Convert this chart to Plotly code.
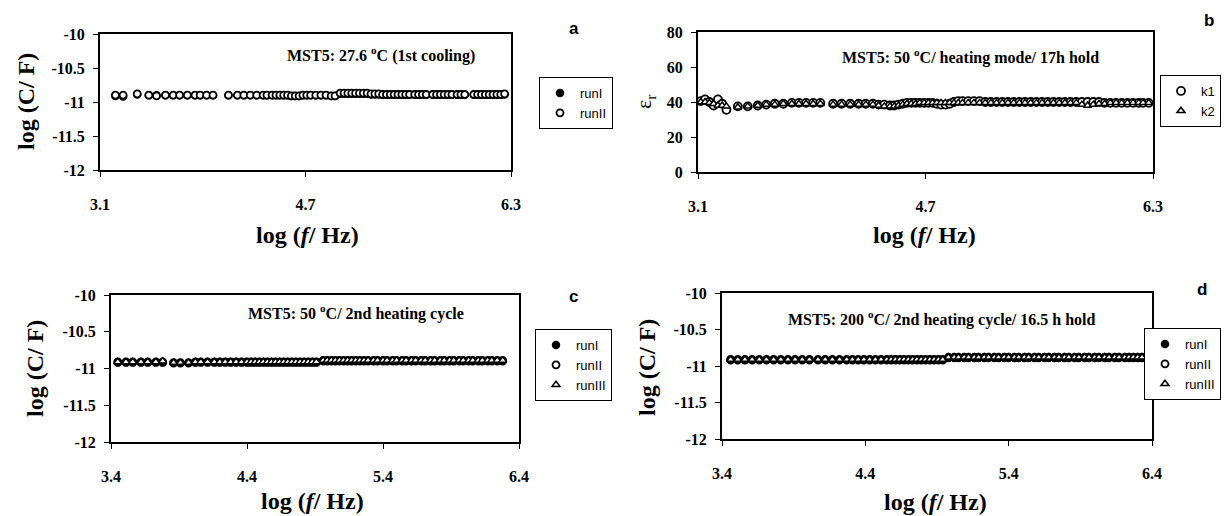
import plotly.graph_objects as go

W, H = 1224, 516
SERIF = "Liberation Serif, Times New Roman, serif"
SANS = "Liberation Sans, Arial, sans-serif"

# ---------------- data (log f in Hz) ----------------
freq_a = [3.22, 3.28, 3.39, 3.48, 3.54, 3.61, 3.67, 3.72, 3.78, 3.84, 3.88,
          3.93, 3.98, 4.10, 4.17, 4.22, 4.27, 4.32, 4.37, 4.40, 4.44, 4.47,
          4.50, 4.53, 4.56, 4.59, 4.62, 4.65, 4.68, 4.71, 4.74, 4.78, 4.82,
          4.86, 4.90, 4.93, 4.97, 5.00, 5.03, 5.06, 5.09, 5.12, 5.15, 5.18,
          5.21, 5.24, 5.27, 5.30, 5.33, 5.36, 5.39, 5.42, 5.45, 5.48, 5.51,
          5.55, 5.58, 5.61, 5.64, 5.69, 5.72, 5.75, 5.78, 5.81, 5.84, 5.88,
          5.91, 5.94, 6.01, 6.04, 6.07, 6.10, 6.13, 6.16, 6.19, 6.22, 6.25]
a_runI = [-10.91, -10.92, -10.89, -10.90, -10.90, -10.90, -10.90, -10.90, -10.90, -10.90, -10.90,
          -10.90, -10.90, -10.90, -10.90, -10.90, -10.90, -10.90, -10.90, -10.90, -10.90, -10.90,
          -10.90, -10.90, -10.90, -10.91, -10.91, -10.91, -10.90, -10.90, -10.90, -10.90, -10.90,
          -10.90, -10.91, -10.91, -10.88, -10.88, -10.88, -10.88, -10.88, -10.88, -10.88, -10.88,
          -10.89, -10.89, -10.89, -10.89, -10.89, -10.89, -10.89, -10.89, -10.89, -10.89, -10.89,
          -10.89, -10.89, -10.89, -10.89, -10.89, -10.89, -10.89, -10.89, -10.89, -10.89, -10.89,
          -10.89, -10.89, -10.89, -10.89, -10.89, -10.89, -10.89, -10.89, -10.89, -10.89, -10.89]
a_runII = [-10.90, -10.90, -10.88, -10.90, -10.91, -10.90, -10.90, -10.90, -10.90, -10.90, -10.90,
           -10.90, -10.90, -10.90, -10.90, -10.90, -10.90, -10.90, -10.90, -10.90, -10.90, -10.90,
           -10.90, -10.90, -10.90, -10.91, -10.91, -10.91, -10.90, -10.90, -10.90, -10.90, -10.90,
           -10.90, -10.91, -10.91, -10.87, -10.87, -10.87, -10.87, -10.87, -10.87, -10.87, -10.87,
           -10.88, -10.88, -10.88, -10.89, -10.89, -10.89, -10.89, -10.89, -10.89, -10.89, -10.89,
           -10.89, -10.89, -10.89, -10.89, -10.89, -10.89, -10.89, -10.89, -10.89, -10.89, -10.89,
           -10.89, -10.89, -10.89, -10.89, -10.89, -10.89, -10.89, -10.89, -10.89, -10.89, -10.88]

freq_b = [3.12, 3.15, 3.18, 3.21, 3.24, 3.27, 3.30, 3.38, 3.45, 3.52, 3.58,
          3.64, 3.70, 3.76, 3.81, 3.86, 3.91, 3.96, 4.05, 4.11, 4.17, 4.23,
          4.28, 4.33, 4.37, 4.41, 4.45, 4.48, 4.51, 4.54, 4.57, 4.60, 4.63,
          4.66, 4.69, 4.72, 4.75, 4.78, 4.81, 4.84, 4.87, 4.90, 4.93, 4.96,
          5.00, 5.04, 5.08, 5.12, 5.16, 5.20, 5.24, 5.28, 5.32, 5.36, 5.40,
          5.44, 5.48, 5.52, 5.56, 5.60, 5.64, 5.68, 5.72, 5.76, 5.80, 5.84,
          5.88, 5.92, 5.96, 6.00, 6.04, 6.08, 6.12, 6.16, 6.20, 6.23, 6.27]
b_k1 = [40.5, 41.5, 40.0, 38.0, 41.5, 39.0, 35.5, 37.5, 37.5, 38.0, 38.5,
        39.0, 39.0, 39.5, 39.5, 39.5, 39.5, 39.5, 39.0, 39.0, 39.0, 39.0,
        39.0, 39.0, 38.5, 38.5, 38.0, 38.0, 38.5, 39.0, 39.5, 39.5, 39.5,
        39.5, 39.5, 39.5, 39.5, 39.0, 38.5, 38.5, 39.0, 40.0, 40.5, 40.5,
        40.5, 40.5, 40.5, 40.0, 40.0, 40.0, 40.0, 40.0, 40.0, 40.0, 40.0,
        40.0, 40.0, 40.0, 40.0, 40.0, 40.0, 40.0, 40.0, 40.0, 40.0, 40.0,
        40.0, 40.0, 39.5, 39.5, 39.5, 39.5, 39.5, 39.5, 39.5, 39.5, 39.5]
b_k2 = [40.0, 40.0, 39.5, 39.0, 38.0, 38.0, 37.5, 37.0, 37.5, 38.0, 38.5,
        38.5, 39.0, 39.0, 39.0, 39.0, 39.0, 39.0, 38.5, 38.5, 38.5, 38.5,
        38.5, 38.5, 38.0, 37.5, 37.5, 37.5, 38.0, 38.5, 39.0, 39.0, 39.0,
        39.5, 39.5, 39.5, 39.5, 39.5, 39.5, 39.5, 39.5, 39.5, 39.5, 39.5,
        39.5, 39.5, 39.5, 39.5, 39.5, 39.5, 39.5, 39.5, 39.5, 39.5, 39.5,
        39.5, 39.5, 39.5, 39.5, 39.5, 39.5, 39.5, 39.5, 39.5, 38.5, 38.0,
        38.5, 39.0, 39.0, 39.5, 39.5, 39.5, 39.5, 39.5, 39.5, 39.5, 39.5]

freq_c = [3.45, 3.51, 3.56, 3.62, 3.67, 3.73, 3.78, 3.86, 3.91, 3.97, 4.02,
          4.06, 4.11, 4.16, 4.20, 4.24, 4.28, 4.32, 4.36, 4.40, 4.43, 4.46,
          4.49, 4.52, 4.55, 4.58, 4.61, 4.64, 4.67, 4.70, 4.73, 4.76, 4.79,
          4.82, 4.85, 4.88, 4.91, 4.96, 4.99, 5.02, 5.05, 5.08, 5.11, 5.14,
          5.17, 5.20, 5.23, 5.26, 5.29, 5.33, 5.36, 5.40, 5.43, 5.47, 5.50,
          5.54, 5.57, 5.61, 5.64, 5.68, 5.71, 5.75, 5.78, 5.82, 5.85, 5.89,
          5.92, 5.96, 5.99, 6.03, 6.06, 6.10, 6.13, 6.17, 6.20, 6.24, 6.28]
c_runI = [-10.92, -10.92, -10.92, -10.92, -10.92, -10.92, -10.92, -10.93, -10.93, -10.93, -10.92,
          -10.92, -10.92, -10.92, -10.92, -10.92, -10.92, -10.92, -10.92, -10.92, -10.92, -10.92,
          -10.92, -10.92, -10.92, -10.92, -10.92, -10.92, -10.92, -10.92, -10.92, -10.92, -10.92,
          -10.92, -10.92, -10.92, -10.92, -10.90, -10.90, -10.90, -10.90, -10.90, -10.90, -10.90,
          -10.90, -10.90, -10.90, -10.90, -10.90, -10.90, -10.90, -10.90, -10.90, -10.90, -10.90,
          -10.90, -10.90, -10.90, -10.90, -10.90, -10.90, -10.90, -10.90, -10.90, -10.90, -10.90,
          -10.90, -10.90, -10.90, -10.90, -10.90, -10.90, -10.90, -10.90, -10.90, -10.90, -10.90]
c_runII = [-10.91, -10.91, -10.91, -10.91, -10.91, -10.91, -10.91, -10.92, -10.92, -10.92, -10.91,
           -10.91, -10.91, -10.91, -10.91, -10.91, -10.91, -10.91, -10.91, -10.91, -10.91, -10.91,
           -10.91, -10.91, -10.91, -10.91, -10.91, -10.91, -10.91, -10.91, -10.91, -10.91, -10.91,
           -10.91, -10.91, -10.91, -10.91, -10.89, -10.89, -10.89, -10.89, -10.89, -10.89, -10.89,
           -10.89, -10.89, -10.89, -10.89, -10.89, -10.89, -10.89, -10.89, -10.89, -10.89, -10.89,
           -10.89, -10.89, -10.89, -10.89, -10.89, -10.89, -10.89, -10.89, -10.89, -10.89, -10.89,
           -10.89, -10.89, -10.89, -10.89, -10.89, -10.89, -10.89, -10.89, -10.89, -10.89, -10.89]
c_runIII = [-10.91, -10.91, -10.91, -10.91, -10.91, -10.91, -10.90, -10.92, -10.92, -10.92, -10.91,
            -10.91, -10.91, -10.91, -10.91, -10.91, -10.91, -10.91, -10.91, -10.91, -10.91, -10.91,
            -10.91, -10.91, -10.91, -10.91, -10.91, -10.91, -10.91, -10.91, -10.91, -10.91, -10.91,
            -10.91, -10.91, -10.91, -10.91, -10.89, -10.89, -10.89, -10.89, -10.89, -10.89, -10.89,
            -10.89, -10.89, -10.89, -10.89, -10.89, -10.89, -10.89, -10.89, -10.89, -10.89, -10.89,
            -10.89, -10.89, -10.89, -10.89, -10.89, -10.89, -10.89, -10.89, -10.89, -10.89, -10.89,
            -10.89, -10.89, -10.89, -10.89, -10.89, -10.89, -10.89, -10.89, -10.89, -10.89, -10.89]

freq_d = [3.46, 3.51, 3.56, 3.61, 3.66, 3.71, 3.76, 3.81, 3.86, 3.91, 3.96,
          4.01, 4.07, 4.12, 4.17, 4.22, 4.27, 4.31, 4.35, 4.39, 4.43, 4.47,
          4.51, 4.55, 4.58, 4.61, 4.64, 4.67, 4.70, 4.73, 4.76, 4.79, 4.82,
          4.85, 4.88, 4.91, 4.94, 4.98, 5.02, 5.05, 5.09, 5.12, 5.16, 5.19,
          5.23, 5.26, 5.30, 5.33, 5.37, 5.40, 5.44, 5.47, 5.51, 5.54, 5.58,
          5.61, 5.65, 5.68, 5.72, 5.75, 5.79, 5.82, 5.86, 5.89, 5.93, 5.96,
          6.00, 6.03, 6.07, 6.10, 6.14, 6.17, 6.21, 6.24, 6.27, 6.30, 6.33]
d_runI = [-10.92, -10.92, -10.92, -10.92, -10.92, -10.92, -10.92, -10.92, -10.92, -10.92, -10.92,
          -10.92, -10.92, -10.92, -10.92, -10.92, -10.92, -10.92, -10.92, -10.92, -10.92, -10.92,
          -10.92, -10.92, -10.92, -10.92, -10.92, -10.92, -10.92, -10.92, -10.92, -10.92, -10.92,
          -10.92, -10.92, -10.92, -10.92, -10.89, -10.89, -10.89, -10.89, -10.89, -10.89, -10.89,
          -10.89, -10.89, -10.89, -10.89, -10.89, -10.89, -10.89, -10.89, -10.89, -10.89, -10.89,
          -10.89, -10.89, -10.89, -10.89, -10.89, -10.89, -10.89, -10.89, -10.89, -10.89, -10.89,
          -10.89, -10.89, -10.89, -10.89, -10.89, -10.89, -10.89, -10.89, -10.89, -10.89, -10.89]
d_runII = [-10.91, -10.91, -10.91, -10.91, -10.91, -10.91, -10.91, -10.91, -10.91, -10.91, -10.91,
           -10.91, -10.91, -10.91, -10.91, -10.91, -10.91, -10.91, -10.91, -10.91, -10.91, -10.91,
           -10.91, -10.91, -10.91, -10.91, -10.91, -10.91, -10.91, -10.91, -10.91, -10.91, -10.91,
           -10.91, -10.91, -10.91, -10.91, -10.88, -10.88, -10.88, -10.88, -10.88, -10.88, -10.88,
           -10.88, -10.88, -10.88, -10.88, -10.88, -10.88, -10.88, -10.88, -10.88, -10.88, -10.88,
           -10.88, -10.88, -10.88, -10.88, -10.88, -10.88, -10.88, -10.88, -10.88, -10.88, -10.88,
           -10.88, -10.88, -10.88, -10.88, -10.88, -10.88, -10.88, -10.88, -10.88, -10.88, -10.88]
d_runIII = [-10.91, -10.91, -10.91, -10.91, -10.91, -10.91, -10.91, -10.91, -10.91, -10.91, -10.91,
            -10.91, -10.91, -10.91, -10.91, -10.91, -10.91, -10.91, -10.91, -10.91, -10.91, -10.91,
            -10.91, -10.91, -10.91, -10.91, -10.91, -10.91, -10.91, -10.91, -10.91, -10.91, -10.91,
            -10.91, -10.91, -10.91, -10.91, -10.88, -10.88, -10.88, -10.88, -10.88, -10.88, -10.88,
            -10.88, -10.88, -10.88, -10.88, -10.88, -10.88, -10.88, -10.88, -10.88, -10.88, -10.88,
            -10.88, -10.88, -10.88, -10.88, -10.88, -10.88, -10.88, -10.88, -10.88, -10.88, -10.88,
            -10.88, -10.88, -10.88, -10.88, -10.88, -10.88, -10.88, -10.88, -10.88, -10.88, -10.88]

xticks_ab = [3.1, 4.7, 6.3]
xticks_cd = [3.4, 4.4, 5.4, 6.4]
yticks_logc = [-12, -11.5, -11, -10.5, -10]
yticklabels_logc = ["-12", "-11.5", "-11", "-10.5", "-10"]
yticks_eps = [0, 20, 40, 60, 80]

# ---------------- figure ----------------
fig = go.Figure()

FILLED = dict(symbol="circle", color="black", size=7, line=dict(color="black", width=1.5))
OPEN_C = dict(symbol="circle", color="white", size=7, line=dict(color="black", width=1.8))
OPEN_T = dict(symbol="triangle-up", color="white", size=7, line=dict(color="black", width=1.5))


def add(x, y, name, marker, xa, ya, legend, rank):
    fig.add_trace(go.Scatter(x=x, y=y, mode="markers", name=name, marker=marker,
                             xaxis=xa, yaxis=ya, legend=legend, legendrank=rank,
                             cliponaxis=False))


# panel a
add(freq_a, a_runI, "runI", FILLED, "x", "y", "legend", 1)
add(freq_a, a_runII, "runII", OPEN_C, "x", "y", "legend", 2)
# panel b
add(freq_b, b_k1, "k1", dict(OPEN_C, size=8), "x2", "y2", "legend2", 1)
add(freq_b, b_k2, "k2", OPEN_T, "x2", "y2", "legend2", 2)
# panel c
add(freq_c, c_runII, "runII", OPEN_C, "x3", "y3", "legend3", 2)
add(freq_c, c_runI, "runI", FILLED, "x3", "y3", "legend3", 1)
add(freq_c, c_runIII, "runIII", OPEN_T, "x3", "y3", "legend3", 3)
# panel d
add(freq_d, d_runII, "runII", OPEN_C, "x4", "y4", "legend4", 2)
add(freq_d, d_runI, "runI", FILLED, "x4", "y4", "legend4", 1)
add(freq_d, d_runIII, "runIII", OPEN_T, "x4", "y4", "legend4", 3)

TICKFONT = dict(family=SERIF, size=16, color="black", weight="bold")


def xaxis(x0, x1, anchor, rng, ticks):
    return dict(domain=[x0 / W, x1 / W], anchor=anchor, range=rng, tickvals=ticks,
                ticktext=[f"{t:.1f}" for t in ticks], automargin=False,
                showline=True, linecolor="black", linewidth=2, mirror=True,
                ticks="outside", ticklen=5, tickwidth=1, tickcolor="black",
                ticklabelstandoff=14, tickfont=TICKFONT,
                showgrid=False, zeroline=False, fixedrange=True)


def yaxis(y0, y1, anchor, rng, ticks, labels):
    return dict(domain=[1 - y1 / H, 1 - y0 / H], anchor=anchor, range=rng,
                tickvals=ticks, ticktext=labels, automargin=False,
                showline=True, linecolor="black", linewidth=2, mirror=True,
                ticks="outside", ticklen=5, tickwidth=1, tickcolor="black",
                ticklabelstandoff=5, tickfont=TICKFONT,
                showgrid=False, zeroline=False, fixedrange=True)


def legend(x, y, anchor="left"):
    return dict(x=x / W, y=1 - y / H, xanchor=anchor, yanchor="top",
                bordercolor="black", borderwidth=1, bgcolor="white",
                font=dict(family=SANS, size=13, color="black"),
                itemwidth=30, tracegroupgap=0)


annotations = []


def txt(x, y, text, size, anchor="center", angle=0, family=SERIF):
    annotations.append(dict(x=x / W, y=1 - y / H, xref="paper", yref="paper",
                            text=text, showarrow=False, xanchor=anchor, yanchor="middle",
                            textangle=angle, font=dict(family=family, size=size, color="black")))


# panel titles inside plots
txt(285, 55, "<b>MST5: 27.6 <sup>o</sup>C (1st cooling)</b>", 16, "left")
txt(840, 57, "<b>MST5: 50 <sup>o</sup>C/ heating mode/ 17h hold</b>", 16, "left")
txt(246, 312, "<b>MST5: 50 <sup>o</sup>C/ 2nd heating cycle</b>", 16, "left")
txt(786, 318, "<b>MST5: 200 <sup>o</sup>C/ 2nd heating cycle/ 16.5 h hold</b>", 16, "left")
# panel letters
txt(574, 29, "<b>a</b>", 17, family=SANS)
txt(1209, 21, "<b>b</b>", 17, family=SANS)
txt(573, 296, "<b>c</b>", 17, family=SANS)
txt(1202, 289, "<b>d</b>", 17, family=SANS)
# axis titles
XT = "<b>log (<i>f</i>/ Hz)</b>"
YT = "<b>log (C/ F)</b>"
txt(307, 235, XT, 24)
txt(924, 235, XT, 24)
txt(312, 501, XT, 24)
txt(936, 502, XT, 24)
txt(26, 102, YT, 24, angle=-90)
txt(35, 369, YT, 24, angle=-90)
txt(647, 368, YT, 24, angle=-90)
txt(645, 102, "ε<sub>r</sub>", 22, angle=-90)

fig.update_layout(
    width=W, height=H, margin=dict(l=0, r=0, t=0, b=0, autoexpand=False),
    paper_bgcolor="white", plot_bgcolor="white", showlegend=True,
    xaxis=xaxis(100, 511, "y", [3.1, 6.3], xticks_ab),
    yaxis=yaxis(34, 170, "x", [-12, -10], yticks_logc, yticklabels_logc),
    xaxis2=xaxis(698, 1153, "y2", [3.1, 6.3], xticks_ab),
    yaxis2=yaxis(32, 172, "x2", [0, 80], yticks_eps, [str(v) for v in yticks_eps]),
    xaxis3=xaxis(111, 519, "y3", [3.4, 6.4], xticks_cd),
    yaxis3=yaxis(295, 442, "x3", [-12, -10], yticks_logc, yticklabels_logc),
    xaxis4=xaxis(722, 1152, "y4", [3.4, 6.4], xticks_cd),
    yaxis4=yaxis(293, 439, "x4", [-12, -10], yticks_logc, yticklabels_logc),
    legend=legend(539, 77),
    legend2=legend(1221, 75, "right"),
    legend3=legend(535, 329),
    legend4=legend(1221, 328, "right"),
    annotations=annotations,
)

fig.write_html("out.html",
               config={"displayModeBar": False},
               post_script="document.body.style.margin='0';document.body.style.overflow='hidden';")
